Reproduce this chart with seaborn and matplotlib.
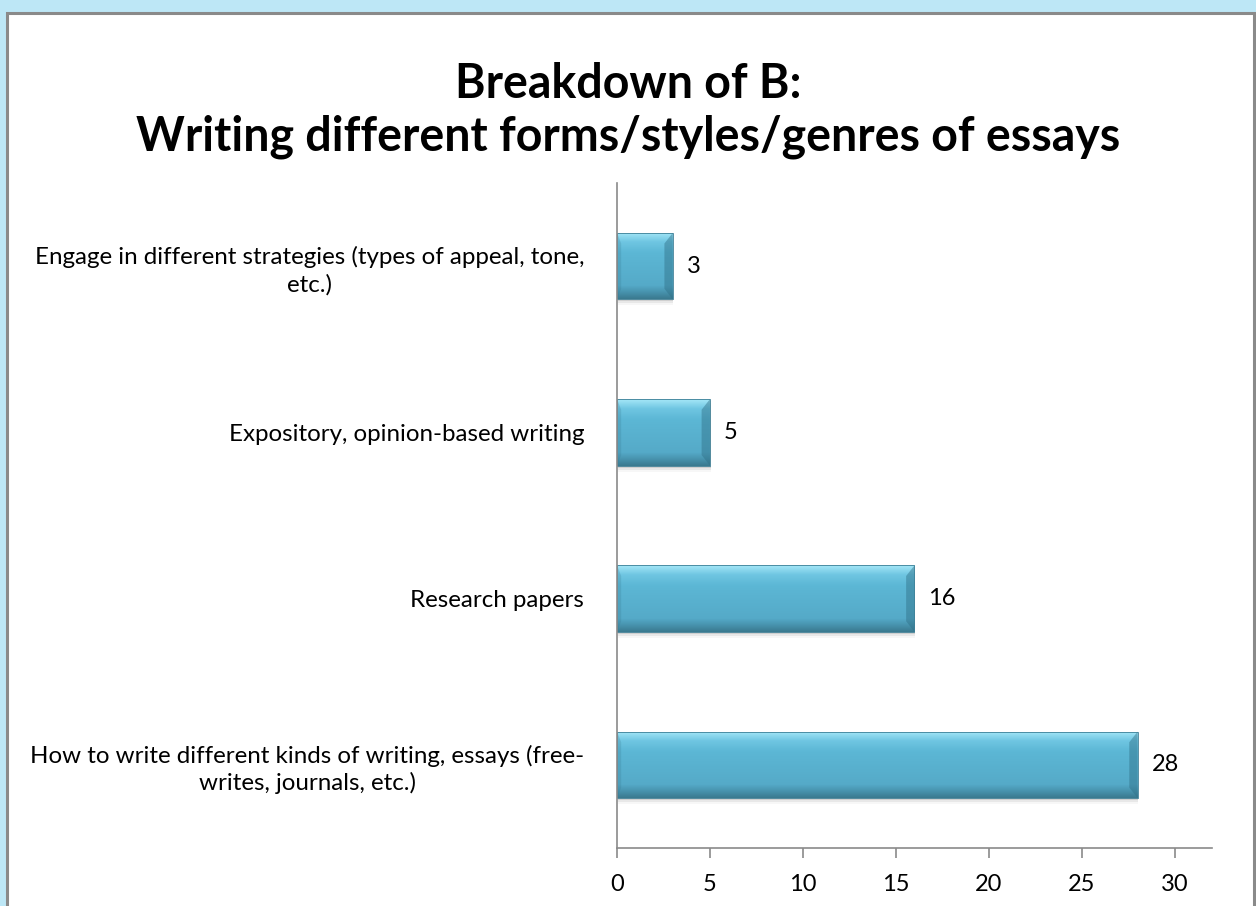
import matplotlib
matplotlib.use("Agg")
import matplotlib.pyplot as plt
from matplotlib.patches import Rectangle, Polygon
from matplotlib.colors import LinearSegmentedColormap
import numpy as np
import seaborn as sns
import pandas as pd

categories = [
    "Engage in different strategies (types of appeal, tone,\netc.)",
    "Expository, opinion-based writing",
    "Research papers",
    "How to write different kinds of writing, essays (free-\nwrites, journals, etc.)",
]
counts = [3, 5, 16, 28]
xticks = [0, 5, 10, 15, 20, 25, 30]

df = pd.DataFrame({"category": categories, "count": counts})

sns.set_style("white")
plt.rcParams["font.family"] = ["Lato", "DejaVu Sans"]

fig = plt.figure(figsize=(12.56, 9.06), dpi=100)
fig.patch.set_facecolor("#BDE7F6")
# white chart panel with grey frame
fig.patches.append(Rectangle((7 / 1256, -0.01), (1254 - 7) / 1256, (906 - 13) / 906 + 0.01,
                             transform=fig.transFigure, facecolor="white",
                             edgecolor="#8a8a8a", linewidth=2.2, zorder=0))

ax = fig.add_axes([617 / 1256, (906 - 848) / 906, (1212 - 617) / 1256, (848 - 183) / 906])
ax.set_facecolor("none")
ax.set_zorder(2)

sns.barplot(data=df, y="category", x="count", orient="h", color="#5AB4D2",
            width=0.40, saturation=1, edgecolor="#3d7f96", linewidth=0.6, ax=ax)

# bevel look: vertical gradient, dark right end, soft shadow
grad = LinearSegmentedColormap.from_list(
    "bevel", [(0, "#A4E6F7"), (0.14, "#6FC6E2"), (0.3, "#5CB7D5"),
              (0.8, "#55AAC8"), (0.9, "#4893AE"), (1, "#3A7A90")])
g = np.linspace(0, 1, 100).reshape(-1, 1)
for bar in list(ax.patches):
    x0, y0 = bar.get_x(), bar.get_y()
    w, h = bar.get_width(), bar.get_height()
    for k, a in [(0.012, 0.10), (0.024, 0.06), (0.036, 0.03)]:
        ax.add_patch(Rectangle((x0 + 0.03, y0 + k), w, h, facecolor="#000000",
                               alpha=a, edgecolor="none", zorder=1))
    im = ax.imshow(g, cmap=grad, extent=(x0, x0 + w, y0 + h, y0), origin="upper",
                   aspect="auto", zorder=2.5, interpolation="bilinear")
    im.set_clip_path(bar)
    d = 0.45
    ax.add_patch(Polygon([(x0 + w - d, y0 + h * 0.16), (x0 + w, y0), (x0 + w, y0 + h),
                          (x0 + w - d, y0 + h * 0.84)], closed=True,
                         facecolor="#2F6F86", alpha=0.45, edgecolor="none", zorder=3))
    ax.add_patch(Polygon([(x0, y0), (x0 + d * 0.5, y0 + h * 0.16),
                          (x0 + d * 0.5, y0 + h * 0.84), (x0, y0 + h)], closed=True,
                         facecolor="#2F6F86", alpha=0.2, edgecolor="none", zorder=3))
    bar.set_facecolor("none")
    bar.set_zorder(3.5)

for i, v in enumerate(counts):
    ax.text(v + 0.75, i, str(v), va="center", ha="left", fontsize=17, color="black")

ax.set_xlim(0, 32)
ax.set_ylim(3.5, -0.5)
ax.set_xticks(xticks)
ax.set_xlabel("")
ax.set_ylabel("")
ax.tick_params(axis="x", bottom=True, length=7, width=1.2, color="#8a8a8a",
               labelsize=17, labelcolor="black", pad=12)
ax.tick_params(axis="y", left=False, labelsize=17.4, labelcolor="black", pad=20)
for lab in ax.get_yticklabels():
    lab.set_multialignment("center")
    lab.set_linespacing(1.3)

for s in ["top", "right"]:
    ax.spines[s].set_visible(False)
for s in ["left", "bottom"]:
    ax.spines[s].set_color("#8a8a8a")
    ax.spines[s].set_linewidth(1.2)
    ax.spines[s].set_zorder(4)

fig.text(0.5, 0.878, "Breakdown of B:\nWriting different forms/styles/genres of essays",
         ha="center", va="center", fontsize=33.5, fontweight="bold", linespacing=1.22,
         color="black")

fig.savefig("out.png", dpi=100, facecolor=fig.get_facecolor())
